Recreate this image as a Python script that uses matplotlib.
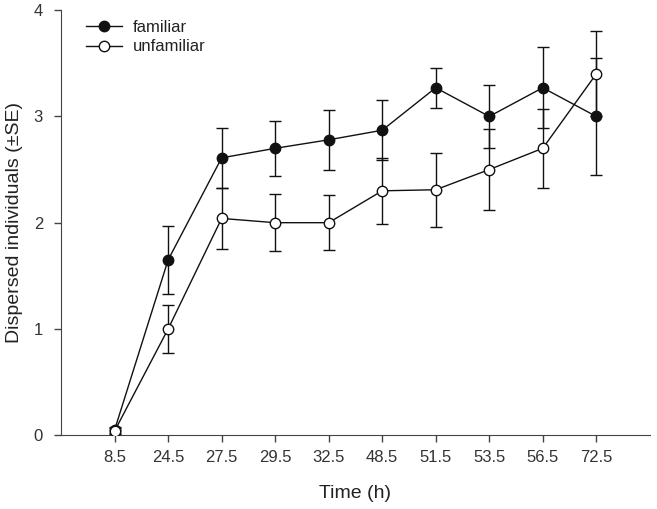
import matplotlib
matplotlib.use('Agg')
import matplotlib.pyplot as plt
from matplotlib.lines import Line2D
import numpy as np

plt.rcParams['font.family'] = ['Liberation Sans', 'DejaVu Sans']

times = ['8.5', '24.5', '27.5', '29.5', '32.5', '48.5', '51.5', '53.5', '56.5', '72.5']
familiar = [0.05, 1.65, 2.61, 2.70, 2.78, 2.87, 3.27, 3.00, 3.27, 3.00]
familiar_se = [0.03, 0.32, 0.28, 0.26, 0.28, 0.28, 0.19, 0.30, 0.38, 0.55]
unfamiliar = [0.04, 1.00, 2.04, 2.00, 2.00, 2.30, 2.31, 2.50, 2.70, 3.40]
unfamiliar_se = [0.03, 0.23, 0.29, 0.27, 0.26, 0.31, 0.35, 0.38, 0.37, 0.40]


def time_plot():
    fig = plt.figure(figsize=(6.57, 5.09), dpi=100)
    ax = fig.add_axes([0.093, 0.145, 0.896, 0.835])
    x = np.arange(len(times))

    ax.errorbar(x, familiar, yerr=familiar_se, color='#111111', marker='o', markersize=7.5,
                markerfacecolor='#111111', markeredgecolor='#111111', linewidth=1,
                elinewidth=1, capsize=4.5, capthick=1, zorder=3)
    ax.errorbar(x, unfamiliar, yerr=unfamiliar_se, color='#111111', marker='o', markersize=7.5,
                markerfacecolor='white', markeredgecolor='#111111', markeredgewidth=1,
                linewidth=1, elinewidth=1, capsize=4.5, capthick=1, zorder=4)

    ax.set_xlim(-1, 10)
    ax.set_ylim(0, 4)
    ax.set_xticks(x)
    ax.set_xticklabels(times)
    ax.set_yticks([0, 1, 2, 3, 4])
    ax.spines['top'].set_visible(False)
    ax.spines['right'].set_visible(False)
    for s in ['left', 'bottom']:
        ax.spines[s].set_color('#444444')
    ax.tick_params(direction='out', length=5, width=1, labelsize=12,
                   colors='#444444', labelcolor='#333333')
    ax.tick_params(axis='y', pad=8)
    ax.tick_params(axis='x', pad=6)

    ax.set_xlabel('Time (h)', fontsize=14, labelpad=14, color='#222222')
    ax.set_ylabel('Dispersed individuals (±SE)', fontsize=14, labelpad=8, color='#222222')

    handles = [
        Line2D([], [], color='#111111', marker='o', markersize=7.5, markerfacecolor='#111111', linewidth=1),
        Line2D([], [], color='#111111', marker='o', markersize=7.5, markerfacecolor='white', linewidth=1),
    ]
    ax.legend(handles, ['familiar', 'unfamiliar'], loc='upper left', frameon=False, fontsize=12,
              handlelength=2.2, handletextpad=0.6, labelspacing=0.25,
              borderaxespad=0.2, bbox_to_anchor=(0.025, 1.0), labelcolor='#222222')

    fig.savefig('out.png', dpi=100)
    plt.close(fig)


if __name__ == "__main__":
    time_plot()
